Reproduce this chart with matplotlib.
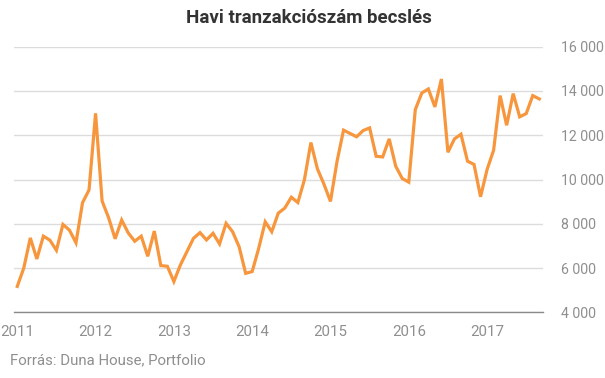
import matplotlib
matplotlib.use("Agg")
import matplotlib.pyplot as plt
from matplotlib.ticker import FuncFormatter

plt.rcParams['font.family'] = ['Roboto', 'DejaVu Sans']

title = "Havi tranzakciószám becslés"
source = "Forrás: Duna House, Portfolio"
years = ["2011", "2012", "2013", "2014", "2015", "2016", "2017"]

v2011 = [5170, 6000, 7360, 6410, 7440, 7260, 6800, 7970, 7710, 7140, 8950, 9530]
v2012 = [12990, 9030, 8270, 7320, 8170, 7590, 7210, 7440, 6530, 7670, 6110, 6080]
v2013 = [5390, 6140, 6740, 7340, 7600, 7270, 7570, 7090, 8020, 7640, 6960, 5760]
v2014 = [5840, 6890, 8090, 7640, 8480, 8710, 9200, 8960, 9980, 11670, 10480, 9790]
v2015 = [9010, 10810, 12230, 12080, 11930, 12210, 12330, 11050, 11020, 11835, 10600, 10045]
v2016 = [9880, 13160, 13910, 14090, 13280, 14540, 11230, 11835, 12045, 10830, 10680, 9220]
v2017 = [10450, 11320, 13790, 12450, 13880, 12830, 12980, 13790, 13640]

values = v2011 + v2012 + v2013 + v2014 + v2015 + v2016 + v2017
months = list(range(len(values)))

fig = plt.figure(figsize=(6.05, 3.78), dpi=100)
ax = fig.add_axes([14/605, 1 - 312.3/378, (543 - 14)/605, (312.3 - 46.7)/378])

ax.plot(months, values, color="#f7963c", linewidth=2.3, solid_joinstyle="miter", zorder=3)

ax.set_xlim(-0.5, 80.57)
ax.set_ylim(4000, 16000)
ax.set_yticks(range(4000, 16001, 2000))
ax.yaxis.set_major_formatter(FuncFormatter(lambda v, p: f"{int(v):,}".replace(",", " ")))
ax.yaxis.tick_right()
ax.tick_params(axis="y", length=0, pad=13, labelsize=10.2, labelcolor="#8f8f8f")
ax.set_xticks([12 * i for i in range(len(years))])
ax.set_xticklabels(years)
ax.tick_params(axis="x", length=0, pad=9, labelsize=10.8, labelcolor="#8f8f8f")

ax.grid(axis="y", color="#dcdcdc", linewidth=1)
ax.grid(axis="x", visible=False)
for s in ["top", "left", "right"]:
    ax.spines[s].set_visible(False)
ax.spines["bottom"].set_color("#8a8a8a")
ax.spines["bottom"].set_linewidth(1)

fig.text(309/605, 1 - 18/378, title, ha="center", va="center", fontsize=13.5,
         fontweight="bold", color="#333333")
fig.text(10/605, 1 - 360/378, source, ha="left", va="center", fontsize=10.8, color="#8f8f8f")

fig.savefig("out.png", dpi=100)
